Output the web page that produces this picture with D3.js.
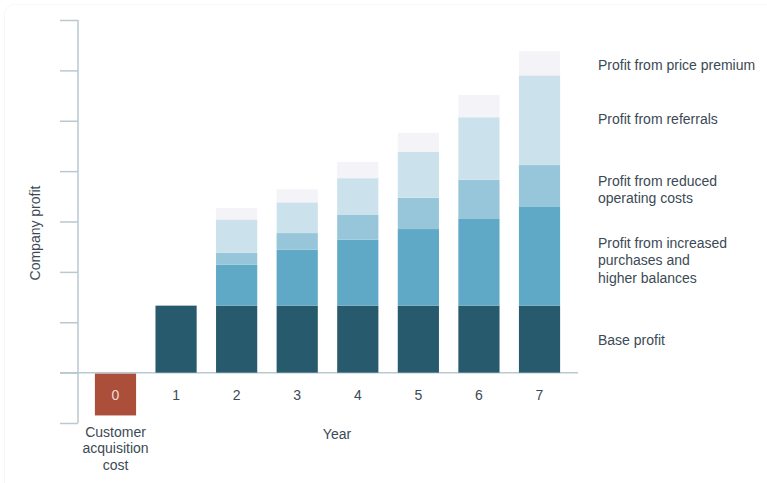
<!DOCTYPE html>
<html>
<head>
<meta charset="utf-8">
<script src="https://cdn.jsdelivr.net/npm/d3@7"></script>
<style>
  body { margin: 0; background: #fff; }
  svg { font-family: "Liberation Sans", Arial, sans-serif; }
</style>
</head>
<body>
<div id="chart"></div>
<script>
// Datos (unidades = una marca del eje)
const years = ["0", "1", "2", "3", "4", "5", "6", "7"];
const acquisitionCost = [-0.85, 0, 0, 0, 0, 0, 0, 0];
const baseProfit = [0, 1.33, 1.33, 1.33, 1.33, 1.33, 1.33, 1.33];
const increasedPurchases = [0, 0, 0.81, 1.11, 1.31, 1.52, 1.72, 1.97];
const reducedCosts = [0, 0, 0.24, 0.33, 0.49, 0.62, 0.78, 0.82];
const referrals = [0, 0, 0.66, 0.61, 0.73, 0.91, 1.24, 1.78];
const pricePremium = [0, 0, 0.23, 0.26, 0.32, 0.38, 0.44, 0.48];
const yTicks = [-1, 0, 1, 2, 3, 4, 5, 6, 7];

const seriesKeys = ["base", "purchases", "costs", "referrals", "premium"];
const seriesColors = ["#285a6d", "#5fa8c6", "#97c5d9", "#cbe2ec", "#f4f3f8"];
const legendLines = [
    ["Base profit"],
    ["Profit from increased", "purchases and", "higher balances"],
    ["Profit from reduced", "operating costs"],
    ["Profit from referrals"],
    ["Profit from price premium"]
];
const legendY = [340, 243, 181, 119, 65];

const width = 767;
const height = 483;
const textColor = "#3b4a55";
const axisColor = "#b9c9d0";
const fontSize = 14;

const svg = d3.select("#chart")
    .append("svg")
    .attr("width", width)
    .attr("height", height);

// Borde tenue de la tarjeta
svg.append("rect")
    .attr("x", 4.5).attr("y", 4.5)
    .attr("width", width + 20).attr("height", height + 20)
    .attr("rx", 10)
    .attr("fill", "none")
    .attr("stroke", "#f7f7f7");

const xScale = d3.scaleBand()
    .domain(years)
    .range([85.2, 569.8])
    .paddingInner(0.32)
    .paddingOuter(0.16);

const yScale = d3.scaleLinear()
    .domain([-1, 7])
    .range([423, 20]);

// Tabla para apilar
const rows = years.map((y, i) => ({
    year: y,
    base: baseProfit[i],
    purchases: increasedPurchases[i],
    costs: reducedCosts[i],
    referrals: referrals[i],
    premium: pricePremium[i]
}));

const stacked = d3.stack().keys(seriesKeys)(rows);

// Eje Y
const yAxis = svg.append("g")
    .attr("transform", "translate(78,0)")
    .call(d3.axisLeft(yScale).tickValues(yTicks).tickSize(18).tickFormat(""));
yAxis.select(".domain").attr("stroke", axisColor).attr("stroke-width", 1.5)
    .attr("d", `M0,${yScale(7)}V${yScale(-1)}`);
yAxis.selectAll(".tick line").attr("stroke", axisColor).attr("stroke-width", 1.5);

// Línea de cero
svg.append("line")
    .attr("x1", 60).attr("x2", 578)
    .attr("y1", yScale(0)).attr("y2", yScale(0))
    .attr("stroke", axisColor)
    .attr("stroke-width", 1.5);

// Barras apiladas
svg.selectAll("g.serie")
    .data(stacked)
    .enter()
    .append("g")
    .attr("class", "serie")
    .attr("fill", (d, i) => seriesColors[i])
    .selectAll("rect")
    .data(d => d.filter(p => p[1] - p[0] > 0))
    .enter()
    .append("rect")
    .attr("x", d => xScale(d.data.year))
    .attr("y", d => yScale(d[1]))
    .attr("width", xScale.bandwidth())
    .attr("height", d => yScale(d[0]) - yScale(d[1]));

// Coste de adquisición (negativo)
svg.selectAll("rect.cost")
    .data(years.filter((y, i) => acquisitionCost[i] < 0))
    .enter()
    .append("rect")
    .attr("class", "cost")
    .attr("x", d => xScale(d))
    .attr("y", yScale(0) + 1)
    .attr("width", xScale.bandwidth())
    .attr("height", d => yScale(acquisitionCost[years.indexOf(d)]) - yScale(0) - 1)
    .attr("fill", "#ab4f3b");

// Etiquetas de año
svg.selectAll("text.year")
    .data(years)
    .enter()
    .append("text")
    .attr("class", "year")
    .attr("x", d => xScale(d) + xScale.bandwidth() / 2)
    .attr("y", 400)
    .attr("text-anchor", "middle")
    .attr("font-size", fontSize)
    .attr("fill", (d, i) => acquisitionCost[i] < 0 ? "#f3dcd6" : textColor)
    .text(d => d);

// Texto bajo la barra 0
svg.append("text")
    .attr("x", xScale("0") + xScale.bandwidth() / 2)
    .attr("y", 436.5)
    .attr("text-anchor", "middle")
    .attr("font-size", fontSize)
    .attr("fill", textColor)
    .selectAll("tspan")
    .data(["Customer", "acquisition", "cost"])
    .enter()
    .append("tspan")
    .attr("x", xScale("0") + xScale.bandwidth() / 2)
    .attr("dy", (d, i) => i === 0 ? 0 : 16.7)
    .text(d => d);

svg.append("text")
    .attr("x", 337)
    .attr("y", 439)
    .attr("text-anchor", "middle")
    .attr("font-size", fontSize)
    .attr("fill", textColor)
    .text("Year");

svg.append("text")
    .attr("transform", "translate(40,233) rotate(-90)")
    .attr("text-anchor", "middle")
    .attr("font-size", fontSize)
    .attr("fill", textColor)
    .text("Company profit");

// Leyenda
legendLines.forEach((lines, i) => {
    svg.append("text")
        .attr("x", 598)
        .attr("y", legendY[i] + 5)
        .attr("font-size", fontSize)
        .attr("fill", textColor)
        .selectAll("tspan")
        .data(lines)
        .enter()
        .append("tspan")
        .attr("x", 598)
        .attr("dy", (d, j) => j === 0 ? 0 : 17.3)
        .text(d => d);
});
</script>
</body>
</html>
